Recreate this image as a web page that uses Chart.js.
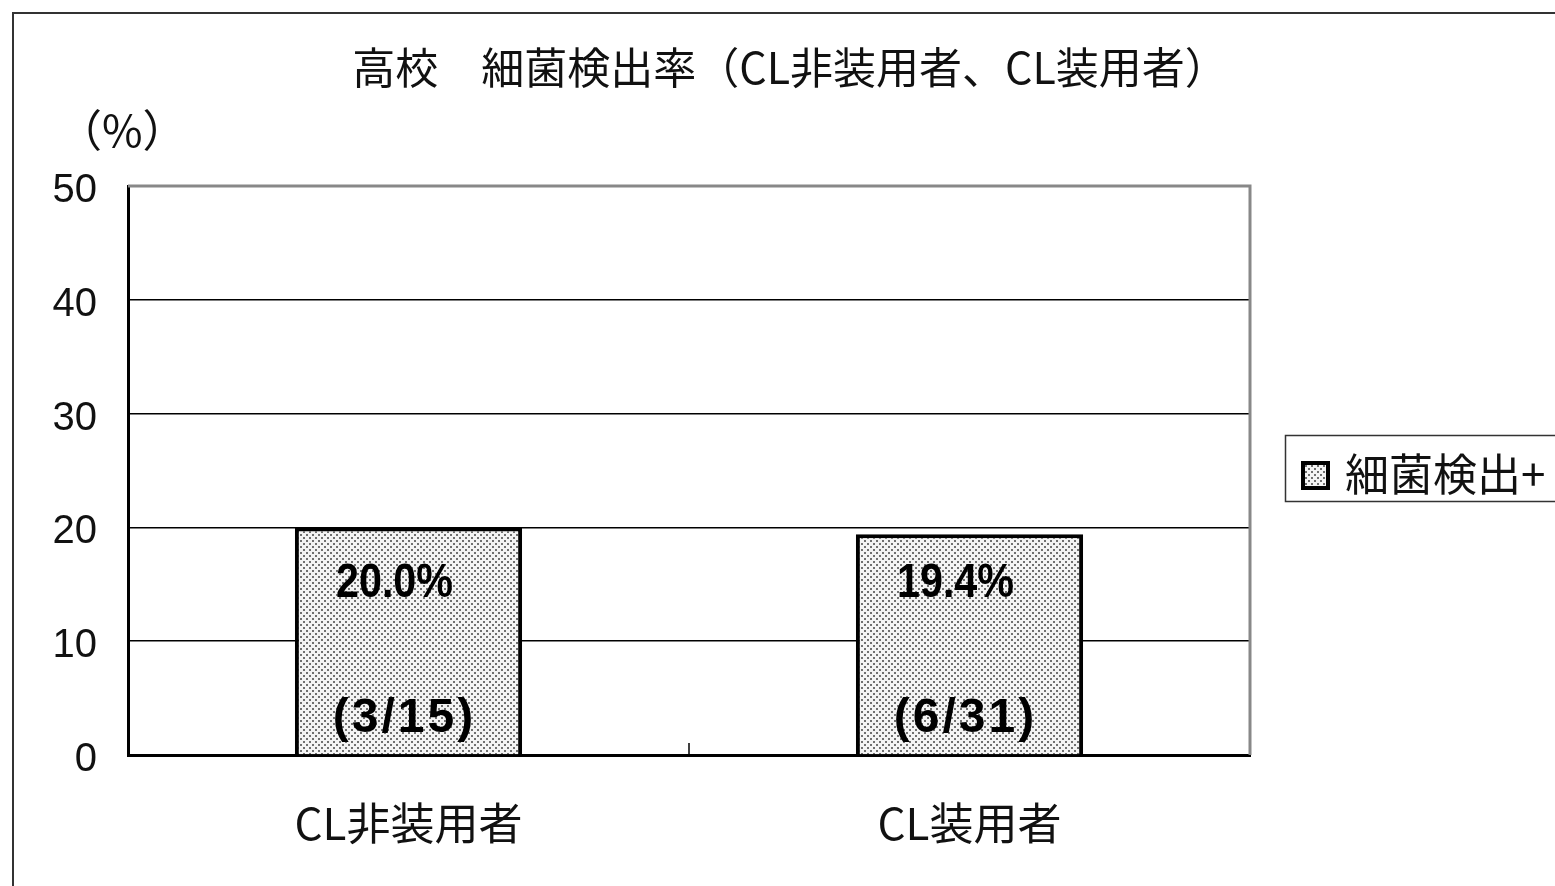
<!DOCTYPE html>
<html>
<head>
<meta charset="utf-8">
<script src="https://cdn.jsdelivr.net/npm/chart.js@4.4.0/dist/chart.umd.min.js"></script>
<style>
  body { margin: 0; background: #fff; }
</style>
</head>
<body>
<canvas id="bar-chart" width="1555" height="886"></canvas>
<script>
const categories = ['CL非装用者', 'CL装用者'];
const rates = [20.0, 19.4];
const counts = ['(3/15)', '(6/31)'];
const yTicks = [0, 10, 20, 30, 40, 50];
const seriesName = '細菌検出+';
const chartTitle = '高校　細菌検出率（CL非装用者、CL装用者）';
const unitLabel = '（%）';

const cjk = '"Noto Sans CJK JP", "Liberation Sans", sans-serif';

// dotted fill like the original print pattern
function dotPattern() {
    const c = document.createElement('canvas');
    c.width = 6; c.height = 6;
    const g = c.getContext('2d');
    g.fillStyle = '#f4f4f4';
    g.fillRect(0, 0, 6, 6);
    g.fillStyle = '#707070';
    g.fillRect(0, 0, 2, 2);
    g.fillRect(3, 3, 2, 2);
    return g.createPattern(c, 'repeat');
}
const pattern = dotPattern();

const decorations = {
    id: 'decorations',
    beforeDraw(chart) {
        const ctx = chart.ctx;
        ctx.save();
        ctx.fillStyle = '#fff';
        ctx.fillRect(0, 0, chart.width, chart.height);
        ctx.strokeStyle = '#333';
        ctx.lineWidth = 2;
        ctx.strokeRect(13, 13, 1700, 1000);
        ctx.restore();
    },
    afterDraw(chart) {
        const ctx = chart.ctx;
        const a = chart.chartArea;
        const x = chart.scales.x;
        ctx.save();
        // gray top and right frame
        ctx.strokeStyle = '#888';
        ctx.lineWidth = 3;
        ctx.beginPath();
        ctx.moveTo(a.left, a.top);
        ctx.lineTo(a.right, a.top);
        ctx.lineTo(a.right, a.bottom);
        ctx.stroke();
        // category divider tick
        const mid = (x.getPixelForValue(0) + x.getPixelForValue(1)) / 2;
        ctx.strokeStyle = '#000';
        ctx.lineWidth = 1.5;
        ctx.beginPath();
        ctx.moveTo(mid, a.bottom);
        ctx.lineTo(mid, a.bottom - 12);
        ctx.stroke();
        // title
        ctx.fillStyle = '#111';
        ctx.textBaseline = 'middle';
        ctx.textAlign = 'center';
        ctx.font = '43px ' + cjk;
        ctx.fillText(chartTitle, 790, 68);
        // unit label
        ctx.textAlign = 'left';
        ctx.font = '44px ' + cjk;
        ctx.fillText(unitLabel, 58, 130);
        // legend
        ctx.strokeStyle = '#333';
        ctx.lineWidth = 1.5;
        ctx.strokeRect(1285.5, 435.5, 300, 66);
        ctx.fillStyle = pattern;
        ctx.fillRect(1302, 462, 27, 27);
        ctx.strokeStyle = '#000';
        ctx.lineWidth = 4;
        ctx.strokeRect(1303, 463, 25, 25);
        ctx.fillStyle = '#111';
        ctx.font = '44px ' + cjk;
        ctx.fillText(seriesName, 1345, 474);
        ctx.restore();
    },
    afterDatasetsDraw(chart) {
        const ctx = chart.ctx;
        const meta = chart.getDatasetMeta(0);
        ctx.save();
        ctx.fillStyle = '#000';
        ctx.textAlign = 'center';
        ctx.textBaseline = 'middle';
        ctx.font = 'bold 48px "Liberation Sans", sans-serif';
        meta.data.forEach(function (bar, i) {
            // percentage: condensed
            ctx.save();
            ctx.translate(bar.x - 14, bar.base - 170);
            ctx.scale(0.86, 1);
            ctx.fillText(rates[i].toFixed(1) + '%', 0, 0);
            ctx.restore();
            // counts: a bit spaced out
            ctx.save();
            ctx.letterSpacing = '3px';
            ctx.fillText(counts[i], bar.x - 4, bar.base - 35);
            ctx.restore();
        });
        ctx.restore();
    }
};

new Chart(document.getElementById('bar-chart'), {
    type: 'bar',
    data: {
        labels: categories,
        datasets: [{
            label: seriesName,
            data: rates,
            backgroundColor: pattern,
            borderColor: '#000',
            borderWidth: 4,
            barPercentage: 0.405,
            categoryPercentage: 1
        }]
    },
    options: {
        responsive: false,
        animation: false,
        layout: {
            padding: { left: 0, right: 305, top: 186, bottom: 0 }
        },
        plugins: {
            legend: { display: false },
            tooltip: { enabled: false },
            title: { display: false }
        },
        scales: {
            x: {
                grid: { display: false, drawTicks: false },
                border: { color: '#000', width: 3 },
                ticks: { color: '#111', padding: 42, font: { family: cjk, size: 44 } },
                afterFit(scale) { scale.height = 131; }
            },
            y: {
                min: 0,
                max: 50,
                afterBuildTicks(scale) { scale.ticks = yTicks.map(v => ({ value: v })); },
                grid: {
                    drawTicks: false,
                    color: ctx => (ctx.tick.value === 0 || ctx.tick.value === 50) ? 'rgba(0,0,0,0)' : '#000',
                    lineWidth: 1.5
                },
                border: { color: '#000', width: 3 },
                ticks: {
                    color: '#111',
                    padding: 31,
                    labelOffset: 5,
                    font: { family: '"Liberation Sans", sans-serif', size: 40 }
                },
                afterFit(scale) { scale.width = 128; }
            }
        }
    },
    plugins: [decorations]
});
</script>
</body>
</html>
